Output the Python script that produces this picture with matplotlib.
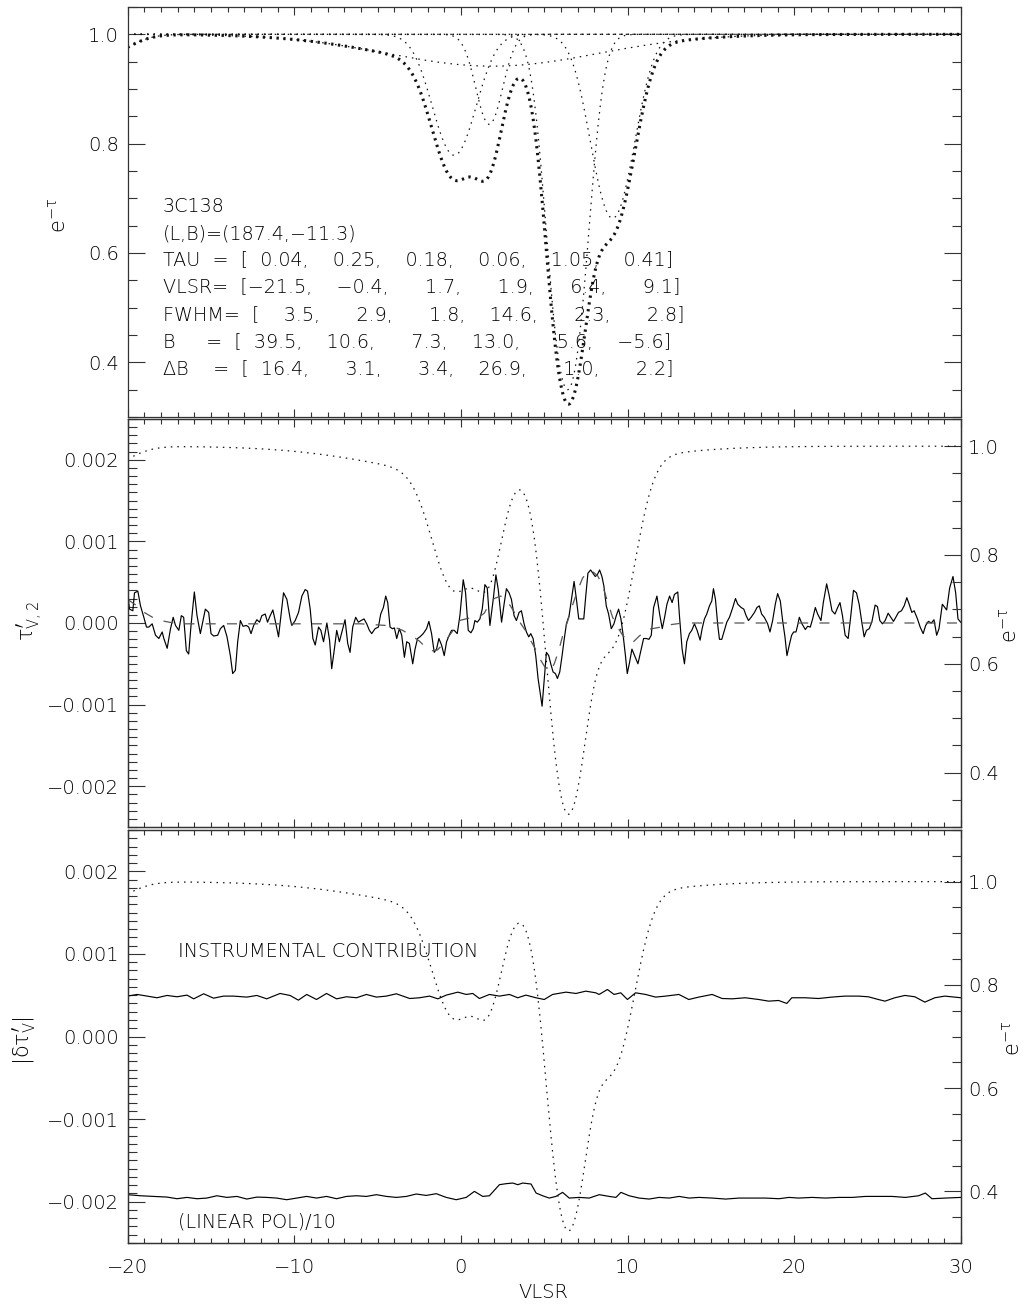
import numpy as np
import matplotlib
matplotlib.use("Agg")
import matplotlib.pyplot as plt
from matplotlib.ticker import MultipleLocator, FixedLocator, FuncFormatter

plt.rcParams["font.family"] = ["DejaVu Sans"]
plt.rcParams["font.weight"] = "light"
plt.rcParams["mathtext.fontset"] = "custom"
plt.rcParams["mathtext.rm"] = "DejaVu Sans:light"
plt.rcParams["mathtext.it"] = "DejaVu Sans:light"
plt.rcParams["mathtext.sf"] = "DejaVu Sans:light"
plt.rcParams["mathtext.bf"] = "DejaVu Sans"
plt.rcParams["font.size"] = 14
plt.rcParams["axes.unicode_minus"] = True

INK = "#000000"
AXC = "#333333"

# ---------------- data ----------------
SOURCE = "3C138"
GLON, GLAT = 187.4, -11.3
TAU = [0.04, 0.25, 0.18, 0.06, 1.05, 0.41]
VLSR = [-21.5, -0.4, 1.7, 1.9, 6.4, 9.1]
FWHM = [3.5, 2.9, 1.8, 14.6, 2.3, 2.8]
BFIELD = [39.5, 10.6, 7.3, 13.0, 5.6, -5.6]
DBFIELD = [16.4, 3.1, 3.4, 26.9, 1.0, 2.2]

# observed tau'_V,2 (units of 1e-4)
V_OBS = [-20.0, -19.88, -19.68, -19.58, -19.38, -19.22, -19.02, -18.86, -18.72, -18.52,
         -18.32, -18.12, -17.92, -17.82, -17.62, -17.42, -17.26, -17.12, -16.92, -16.77,
         -16.63, -16.47, -16.33, -16.19, -15.99, -15.83, -15.63, -15.47, -15.33, -15.13,
         -14.99, -14.83, -14.59, -14.43, -14.23, -14.03, -13.83, -13.69, -13.53, -13.39,
         -13.23, -13.07, -12.87, -12.73, -12.59, -12.43, -12.24, -12.08, -11.94, -11.74,
         -11.60, -11.44, -11.28, -11.14, -10.94, -10.84, -10.64, -10.44,
         -10.24, -10.14, -9.94, -9.74, -9.54, -9.34, -9.20, -9.04, -8.88, -8.74,
         -8.54, -8.40, -8.24, -8.04, -7.88, -7.75, -7.59, -7.45, -7.29, -7.09,
         -6.95, -6.79, -6.65, -6.49, -6.31, -6.15, -5.99, -5.81, -5.65, -5.49,
         -5.35, -5.15, -4.95, -4.81, -4.65, -4.51, -4.39, -4.25, -4.11, -3.99,
         -3.85, -3.69, -3.55, -3.39, -3.25, -3.09, -2.89, -2.75, -2.60, -2.46,
         -2.26, -2.06, -1.92, -1.76, -1.60, -1.46, -1.32, -1.16, -1.00, -0.86,
         -0.70, -0.56, -0.40, -0.22, -0.06, 0.14, 0.28,
         0.44, 0.60, 0.74, 0.84, 0.98, 1.14, 1.28, 1.44, 1.58, 1.74,
         1.94, 2.10, 2.24, 2.44, 2.59, 2.73, 2.89, 3.03, 3.19, 3.33,
         3.49, 3.63, 3.79, 3.93, 4.07, 4.19, 4.33, 4.49, 4.63, 4.77,
         4.87, 4.99, 5.13, 5.27, 5.39, 5.53, 5.67, 5.79, 5.93, 6.07,
         6.19, 6.33, 6.49, 6.63, 6.79, 6.93, 7.07, 7.19, 7.37, 7.49,
         7.62, 7.78, 7.92, 8.06, 8.18, 8.32, 8.46, 8.58, 8.72, 8.86,
         9.02, 9.18, 9.32, 9.46, 9.60, 9.72, 9.86, 9.98, 10.12, 10.26,
         10.42, 10.62, 10.82, 10.96, 11.12, 11.28, 11.42, 11.56, 11.76, 11.92,
         12.08, 12.22, 12.36, 12.52, 12.67, 12.81, 13.01, 13.11, 13.27, 13.41,
         13.55, 13.71, 13.85, 14.01, 14.17, 14.35, 14.47, 14.61, 14.75, 14.91,
         15.05, 15.15, 15.27, 15.41, 15.51, 15.65, 15.81, 15.95, 16.11, 16.31,
         16.47, 16.61, 16.81, 16.97, 17.11, 17.25, 17.41, 17.61, 17.76, 17.90,
         18.04, 18.20, 18.40, 18.54, 18.70, 18.86, 19.00, 19.16, 19.30, 19.44,
         19.56, 19.70, 19.84, 19.96, 20.10, 20.20, 20.30,
         20.46, 20.66, 20.80, 20.96, 21.10, 21.26, 21.40, 21.60, 21.74, 21.94,
         22.10, 22.26, 22.44, 22.60, 22.74, 22.89, 23.05, 23.23, 23.39, 23.55,
         23.73, 23.89, 24.05, 24.19, 24.33, 24.49, 24.65, 24.85, 24.99, 25.13,
         25.29, 25.45, 25.63, 25.79, 25.95, 26.09, 26.25, 26.43, 26.59, 26.75,
         26.89, 27.05, 27.19, 27.39, 27.55, 27.73, 27.88, 28.04, 28.22, 28.38,
         28.54, 28.68, 28.88, 29.14, 29.32, 29.52, 29.68, 29.82, 29.98]
TAUV_OBS = [3.7, 1.7, 1.5, 3.7, 3.9, 2.1, 0.7, -0.5, -0.5, -0.1,
            -1.5, -1.9, -1.1, -1.9, -3.1, -0.7, 0.7, -0.3, -0.9, 0.9,
            0.7, -3.4, -3.8, -0.3, 3.8, 0.9, -1.3, 0.3, 1.7, 1.3,
            -1.3, -1.6, -1.5, -0.7, -0.3, -1.7, -4.0, -6.2, -5.8, -2.3,
            0.3, -0.4, -0.3, -0.5, -1.3, -0.3, 0.4, 0.1, 0.9, 1.1,
            0.1, 0.9, 1.6, 0.3, -1.7, 0.1, 3.7, 2.9,
            0.5, -0.3, 0.3, 1.3, 3.3, 4.1, 3.9, 1.7, -1.9, -2.7,
            -0.5, -0.9, -2.3, 0.0, -2.1, -5.6, -3.2, -0.9, -2.3, -0.7,
            0.4, -2.5, -3.6, -0.5, 0.7, 0.1, 0.3, 0.5, -0.1, -0.9,
            -1.3, -0.7, -0.5, 1.1, 1.9, 3.3, 2.5, -0.5, -0.7, -0.6,
            -1.9, -0.7, -1.5, -4.2, -2.3, -2.5, -5.0, -3.2, -1.9, -1.7,
            -1.3, -0.7, 0.2, -1.3, -3.6, -3.2, -1.9, -2.7, -4.0, -2.3,
            -1.5, -0.9, -0.9, -1.3, 0.9, 5.3, 3.7,
            -0.9, -1.2, -0.7, 0.3, 0.1, 0.5, 1.7, 4.7, 4.3, -0.3,
            2.9, 5.9, 4.1, 0.1, 2.3, 4.2, 3.7, 2.9, 0.9, 0.3,
            1.3, 1.5, -0.1, -1.1, -1.7, -1.3, -1.9, -4.0, -6.8, -8.8,
            -10.2, -7.2, -3.6, -4.0, -5.0, -6.0, -6.2, -6.8, -6.0, -4.0,
            -2.1, -0.1, 0.9, 2.9, 5.1, 2.9, 0.5, 0.5, 0.5, 3.3,
            6.1, 6.5, 6.1, 5.7, 5.9, 6.5, 5.7, 4.5, 2.1, 1.1,
            -0.7, -0.1, 0.9, 1.7, 0.5, -1.3, -3.8, -6.2, -4.8, -3.2,
            -4.0, -5.0, -3.2, -1.9, -1.9, -2.0, -1.5, 1.9, 3.3, 1.1,
            -0.7, 0.7, 2.3, 3.3, 2.5, 3.5, 3.8, 0.9, -3.2, -5.0,
            -2.3, -1.3, -0.9, -0.1, -0.9, -2.1, -0.7, 0.5, 1.1, 2.1,
            2.7, 4.2, 2.9, -0.3, -2.0, -2.0, -0.9, 0.1, 0.7, 1.9,
            3.0, 2.3, 1.9, 1.7, 0.9, 0.3, 0.7, 1.3, 1.9, 2.1,
            1.1, 0.7, -0.1, -1.1, 0.3, 2.3, 3.6, 2.7, 0.3, -1.7,
            -4.0, -2.7, -1.5, -1.1, -1.1, -0.3, 0.7,
            -0.1, -0.8, -0.4, -0.5, 0.5, 1.9, 1.1, 0.3, 2.5, 4.8,
            3.3, 1.5, 1.1, 1.9, 2.5, 0.9, -1.5, -1.9, 0.9, 4.0,
            3.7, 2.3, 0.1, -1.7, -0.9, -0.7, 0.1, 2.2, 2.0, 0.3,
            -0.1, 0.3, 1.2, 0.7, 0.2, 0.7, 1.3, 1.5, 2.1, 3.1,
            2.3, 1.3, 1.5, 0.5, -0.5, -1.3, -0.3, 0.2, 0.0, 0.4,
            -1.5, -0.7, 2.3, 1.6, 4.3, 5.7, 3.7, 0.5, 0.1]

# fitted tau'_V,2 (dashed, units of 1e-4)
V_FIT = [-20.0, -19.5, -19.0, -18.5, -18.0, -17.5, -17.0, -16.0, -6.0, -4.5,
         -4.0, -3.5, -3.0, -2.5, -2.0, -1.7, -1.4, -1.0, -0.5, -0.1,
         0.5, 1.0, 1.4, 1.7, 2.0, 2.4, 2.7, 3.0, 3.3, 3.6,
         3.9, 4.2, 4.5, 4.8, 5.1, 5.35, 5.6, 5.85, 6.1, 6.4,
         6.7, 7.0, 7.3, 7.6, 7.9, 8.2, 8.5, 8.8, 9.1, 9.4,
         9.7, 10.0, 10.3, 10.7, 11.2, 12.0, 12.6, 13.3, 30.0]
TAUV_FIT = [2.9, 2.2, 1.3, 0.7, 0.3, 0.1, -0.1, -0.1, -0.1, -0.3,
            -0.5, -0.9, -1.5, -2.2, -3.2, -3.4, -3.3, -2.4, -1.0, 0.3,
            0.6, 0.6, 1.2, 2.3, 3.0, 3.3, 2.9, 2.0, 1.0, -0.1,
            -1.0, -2.2, -3.3, -4.6, -5.6, -5.9, -5.0, -3.5, -1.6, 0.2,
            2.2, 4.0, 5.5, 6.3, 6.3, 5.8, 4.6, 2.6, 0.7, -0.5,
            -1.5, -2.2, -2.4, -1.6, -0.8, -0.5, -0.2, 0.0, 0.0]

# instrumental contribution (units of 1e-4)
V_INSTR = [-20.0, -19.42, -18.82, -18.23, -17.63, -17.03, -16.43, -16.03, -15.43, -14.84,
           -14.24, -13.64, -12.84, -12.24, -11.65, -10.85, -10.25, -9.75, -9.25, -8.66,
           -8.06, -7.46, -6.86, -6.26, -5.67, -5.07, -4.47, -3.87, -3.07, -2.48,
           -1.88, -1.38, -0.88, -0.18, 0.32, 0.71, 1.11, 1.71, 2.31, 2.91,
           3.41, 3.90, 4.50, 5.00, 5.50, 6.30, 6.90, 7.49, 8.09, 8.29,
           8.79, 9.19, 9.59, 9.99, 10.48, 11.08, 11.68, 12.28, 13.08, 13.67,
           14.27, 15.07, 15.67, 16.27, 17.06, 17.86, 18.46, 19.06, 19.55, 19.85,
           20.65, 21.45, 22.25, 23.04, 23.84, 24.44, 25.04, 25.44, 26.03, 26.63,
           27.23, 27.83, 28.43, 29.03, 30.0]
INSTR = [4.89, 5.09, 4.89, 4.69, 4.97, 4.81, 5.01, 4.56, 5.17, 4.64,
         4.89, 4.89, 4.77, 4.97, 4.56, 5.21, 4.97, 4.40, 5.09, 4.48,
         5.21, 4.56, 4.81, 4.69, 5.09, 4.77, 4.89, 5.17, 4.60, 4.69,
         4.89, 4.56, 5.01, 5.37, 5.09, 5.21, 4.60, 5.09, 4.89, 5.09,
         4.69, 5.01, 4.69, 4.48, 5.09, 5.37, 5.21, 5.49, 5.29, 5.09,
         5.69, 5.09, 5.29, 4.48, 5.29, 5.09, 4.77, 4.89, 5.09, 4.48,
         4.77, 5.09, 4.60, 4.56, 4.69, 4.48, 4.28, 4.36, 4.00, 4.69,
         4.69, 4.60, 4.77, 4.89, 4.89, 4.81, 4.48, 4.28, 4.69, 4.97,
         4.81, 4.16, 4.69, 4.89, 4.69]

# (linear pol)/10 (units of 1e-4)
V_LIN = [-20.0, -19.22, -18.43, -17.63, -17.03, -16.43, -15.83, -15.24, -14.64, -14.04,
         -13.44, -12.84, -12.24, -11.65, -11.05, -10.45, -9.85, -9.25, -8.66, -8.06,
         -7.46, -6.86, -6.26, -5.67, -5.07, -4.47, -3.87, -3.27, -2.68, -2.08,
         -1.48, -0.88, -0.28, 0.32, 0.81, 1.31, 1.71, 2.31, 2.71, 3.11,
         3.41, 3.71, 4.21, 4.51, 4.90, 5.30, 5.70, 6.10, 6.50, 7.10,
         7.70, 8.30, 8.90, 9.30, 9.60, 10.09, 10.69, 11.29, 11.89, 12.49,
         13.09, 13.69, 14.29, 15.08, 15.88, 16.68, 17.48, 18.28, 19.08, 19.68,
         20.27, 21.07, 21.87, 22.67, 23.47, 24.27, 25.06, 25.86, 26.66, 27.46,
         27.86, 28.26, 29.06, 30.0]
LIN = [-19.15, -19.28, -19.36, -19.44, -19.64, -19.48, -19.64, -19.56, -19.28, -19.48,
       -19.36, -19.68, -19.44, -19.48, -19.56, -19.76, -19.56, -19.36, -19.56, -19.36,
       -19.64, -19.36, -19.28, -19.36, -19.15, -19.36, -19.48, -19.36, -19.07, -19.24,
       -19.03, -19.48, -19.76, -19.48, -18.75, -19.36, -19.28, -17.94, -17.82, -17.74,
       -17.94, -17.74, -17.86, -18.95, -19.28, -19.56, -19.36, -18.87, -19.56, -19.48,
       -19.56, -19.15, -19.36, -19.48, -18.87, -19.28, -19.56, -19.68, -19.48, -19.56,
       -19.36, -19.56, -19.48, -19.56, -19.68, -19.56, -19.56, -19.56, -19.64, -19.48,
       -19.56, -19.48, -19.56, -19.48, -19.48, -19.36, -19.36, -19.36, -19.48, -19.28,
       -18.95, -19.64, -19.56, -19.48]

UNIT = 1e-4
XTICKS = [-20, -10, 0, 10, 20, 30]

# ---------------- figure ----------------
W, H = 1030, 1307
fig = plt.figure(figsize=(W / 100, H / 100), dpi=100)
LEFT, RIGHT = 127.5, 961.0


def rect(top, bottom):
    return [LEFT / W, 1 - bottom / H, (RIGHT - LEFT) / W, (bottom - top) / H]


def P(x, y):
    return (x / W, 1 - y / H)


ax1 = fig.add_axes(rect(7, 417))
ax2 = fig.add_axes(rect(419, 827))
ax3 = fig.add_axes(rect(830, 1243))

# Gaussian opacity components defined by the fitted parameters printed on the chart
vgrid = np.linspace(-20, 30, 1201)
comps = [t * np.exp(-4 * np.log(2) * ((vgrid - v0) / w) ** 2)
         for t, v0, w in zip(TAU, VLSR, FWHM)]
tau_tot = np.sum(comps, axis=0)

thin_dot = dict(color="#111111", lw=0.9, linestyle=(0, (1.2, 4.0)), dash_capstyle="butt")
thick_dot = dict(color="#111111", lw=2.2, linestyle=(0, (0.75, 1.5)), dash_capstyle="butt")

# panel 1
for c in comps:
    ax1.plot(vgrid, np.exp(-c), **thin_dot)
ax1.plot(vgrid, np.exp(-tau_tot), **thick_dot)

# panel 2
ax2.plot(V_OBS, np.array(TAUV_OBS) * UNIT, color="black", lw=0.85)
ax2.plot(V_FIT, np.array(TAUV_FIT) * UNIT, color="#555555", lw=0.9,
         linestyle=(0, (8, 9)))
ax2r = ax2.twinx()
ax2r.plot(vgrid, np.exp(-tau_tot), **thin_dot)

# panel 3
ax3.plot(V_INSTR, np.array(INSTR) * UNIT, color="black", lw=0.85)
ax3.plot(V_LIN, np.array(LIN) * UNIT, color="black", lw=0.85)
ax3r = ax3.twinx()
ax3r.plot(vgrid, np.exp(-tau_tot), **thin_dot)


def minus(s):
    return s.replace("-", "\u2212")


fmt3 = FuncFormatter(lambda v, p: "0.000" if abs(v) < 1e-12 else minus(f"{v:.3f}"))
fmt1 = FuncFormatter(lambda v, p: f"{v:.1f}")

for ax in (ax1, ax2, ax3):
    ax.set_xlim(-20, 30)
    ax.xaxis.set_major_locator(FixedLocator(XTICKS))
    ax.xaxis.set_minor_locator(MultipleLocator(1))
    ax.tick_params(axis="x", which="both", direction="in", top=True, bottom=True,
                   color=AXC, width=0.8, labelcolor=INK, labelbottom=(ax is ax3),
                   pad=11)
    ax.tick_params(axis="x", which="major", length=6)
    ax.tick_params(axis="x", which="minor", length=3.3)
    ax.tick_params(axis="y", which="both", direction="in", color=AXC, width=0.8,
                   labelcolor=INK, pad=6)
    ax.tick_params(axis="y", which="major", length=12)
    ax.tick_params(axis="y", which="minor", length=6.5)
    for s in ax.spines.values():
        s.set_color(AXC)
        s.set_linewidth(0.9)

ax1.set_ylim(0.30, 1.05)
ax1.yaxis.set_major_locator(FixedLocator([0.4, 0.6, 0.8, 1.0]))
ax1.yaxis.set_minor_locator(MultipleLocator(0.05))
ax1.yaxis.set_major_formatter(fmt1)
ax1.tick_params(axis="y", which="both", left=True, right=True, labelright=False)

for ax, axr, top in ((ax2, ax2r, 1.05), (ax3, ax3r, 1.10)):
    ax.set_ylim(-0.0025, 0.0025)
    ax.yaxis.set_major_locator(FixedLocator([-0.002, -0.001, 0.0, 0.001, 0.002]))
    ax.yaxis.set_minor_locator(MultipleLocator(0.0001))
    ax.yaxis.set_major_formatter(fmt3)
    ax.tick_params(axis="y", which="both", left=True, right=False)
    axr.set_ylim(0.30, top)
    axr.yaxis.set_major_locator(FixedLocator([0.4, 0.6, 0.8, 1.0]))
    axr.yaxis.set_minor_locator(MultipleLocator(0.05))
    axr.yaxis.set_major_formatter(fmt1)
    axr.tick_params(axis="y", which="both", direction="in", right=True, left=False,
                    color=AXC, width=0.8, labelcolor=INK, pad=5)
    axr.tick_params(axis="y", which="major", length=12)
    axr.tick_params(axis="y", which="minor", length=6.5)
    for s in axr.spines.values():
        s.set_color(AXC)
        s.set_linewidth(0.9)

# axis titles
ETAU = r"$\mathrm{e}^{-\tau}$"
fig.text(*P(58, 215), ETAU, rotation=90, ha="center", va="center",
         fontsize=15, color=INK)
fig.text(*P(30, 621), r"$\tau^{\prime}_{\rm V,2}$", rotation=90, ha="center",
         va="center", fontsize=15, color=INK)
fig.text(*P(1009, 625), ETAU, rotation=90, ha="center", va="center",
         fontsize=15, color=INK)
fig.text(*P(24, 1041), r"$|\delta\tau^{\prime}_{\rm V}|$", rotation=90, ha="center",
         va="center", fontsize=15, color=INK)
fig.text(*P(1012, 1038), ETAU, rotation=90, ha="center", va="center",
         fontsize=15, color=INK)
fig.text(*P(543, 1293), "VLSR", ha="center", va="center", fontsize=14, color=INK)

# annotation block
FIG = "\u2007"


def row(label, vals, width, prec):
    nums = ", ".join(f"{v:{width}.{prec}f}" for v in vals)
    nums = minus(nums.replace(" ", FIG))
    return label + "[" + nums + "]"


lines = [
    SOURCE,
    minus(f"(L,B)=({GLON:.1f},{GLAT:.1f})"),
    row("TAU  =  ", TAU, 5, 2),
    row("VLSR=  ", VLSR, 5, 1),
    row("FWHM=  ", FWHM, 5, 1),
    row("B     =  ", BFIELD, 5, 1),
    row("\u0394B    =  ", DBFIELD, 5, 1),
]
baselines = [212, 239, 266, 293, 321, 348, 375]
for txt, yb in zip(lines, baselines):
    fig.text(*P(163, yb), txt, ha="left", va="baseline", fontsize=13.8, color=INK)

fig.text(*P(178, 957), "INSTRUMENTAL CONTRIBUTION", ha="left", va="baseline",
         fontsize=13.8, color=INK)
fig.text(*P(178, 1228), "(LINEAR POL)/10", ha="left", va="baseline",
         fontsize=13.8, color=INK)

fig.savefig("out.png", dpi=100)
